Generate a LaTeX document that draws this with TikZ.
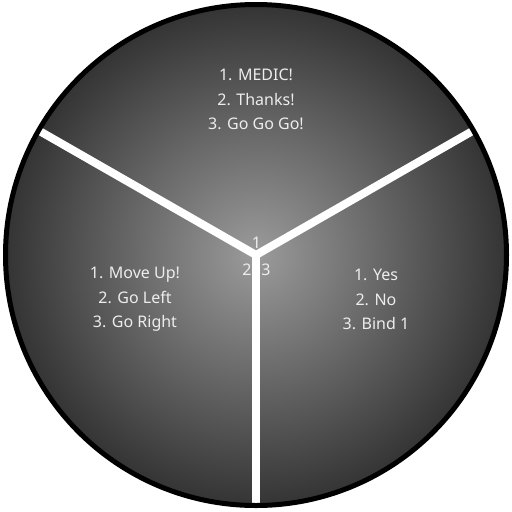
\documentclass[tikz,border=0pt]{standalone}
\usepackage{fontspec}
\setmainfont{Noto Sans}
\usetikzlibrary{calc}
\begin{document}
\begin{tikzpicture}[x=1pt,y=-1pt,
  menutext/.style={text=white!93!black,align=center,font=\fontsize{16}{24.5}\selectfont,inner sep=0pt},
  numlabel/.style={text=white!93!black,font=\fontsize{16}{18}\selectfont,inner sep=0pt},
  divider/.style={draw=white,line width=8pt,line cap=round}]
\definecolor{wheelin}{RGB}{155,155,155}
\definecolor{wheelout}{RGB}{52,52,52}
\useasboundingbox (0,0) rectangle (512,512);
\coordinate (c) at (256,255);
\shade[inner color=wheelin,outer color=wheelout] (c) circle[radius=250.5];
\coordinate (eL) at ($(c)+(-216.5,-124)$);
\coordinate (eR) at ($(c)+(216.5,-124)$);
\coordinate (eB) at ($(c)+(0,248)$);
\draw[divider] (c) -- (eL);
\draw[divider] (c) -- (eR);
\draw[divider] (c) -- (eB);
\draw[black,line width=5pt] (c) circle[radius=250.5];
\node[menutext] (top) at (256,99.5) {1. MEDIC!\\2. Thanks!\\3. Go Go Go!};
\node[menutext] (left) at (135,299.5) {1. Move Up!\\2. Go Left\\3. Go Right};
\node[menutext] (right) at (376,299.5) {1. Yes\\2. No\\3. Bind 1};
\node[numlabel] (n1) at (256.5,243) {1};
\node[numlabel] (n2) at (247,270) {2};
\node[numlabel] (n3) at (266,270) {3};
\end{tikzpicture}
\end{document}
